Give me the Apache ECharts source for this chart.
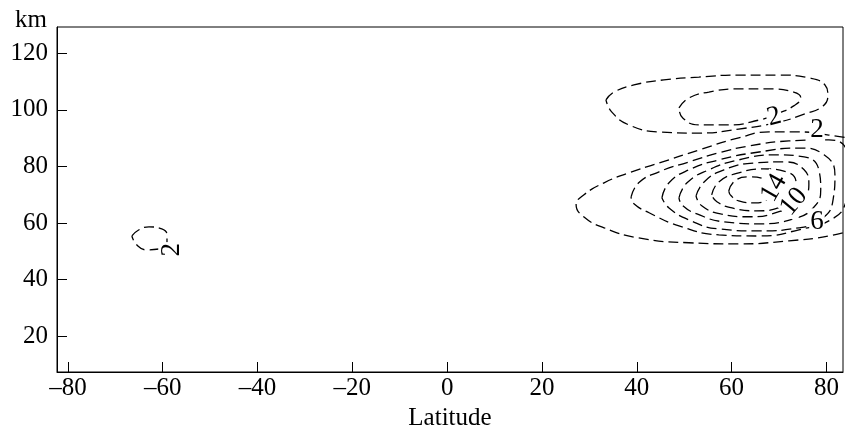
<!DOCTYPE html>
<html>
<head>
<meta charset="utf-8">
<script src="https://cdn.jsdelivr.net/npm/echarts@6/dist/echarts.min.js"></script>
<style>html,body{margin:0;padding:0;background:#fff}#c{width:846px;height:432px}</style>
</head>
<body>
<div id="c"></div>
<script>
// Axis ticks
const latTicks = [-80, -60, -40, -20, 0, 20, 40, 60, 80];
const kmTicks = [20, 40, 60, 80, 100, 120];

// Contours: [latitude, km]
const upperOuter = [[33.5,103.5],[35.2,106.3],[39.4,108.8],[45.7,110.6],[53.1,111.6],[61.5,112.3],[70.0,112.3],[76.3,111.3],[79.7,108.8],[80.3,105.3],[79.3,101.4],[75.3,98.5],[70.0,95.7],[61.5,93.2],[53.1,91.8],[44.7,92.2],[38.3,94.7],[34.7,99.3],[33.5,103.5]];
const upperInner = [[48.9,100.7],[51.0,104.2],[55.2,106.3],[61.5,107.4],[67.9,107.4],[73.1,106.3],[74.6,104.2],[73.1,101.4],[70.0,98.9],[65.8,96.4],[59.4,94.7],[53.1,94.7],[49.7,97.1],[48.9,100.7]];
const lower2 = [[86.9,89.4],[80.5,91.1],[74.2,92.2],[67.9,92.2],[61.5,90.1],[53.1,85.8],[44.7,81.2],[38.3,77.7],[33.1,74.2],[28.8,69.9],[27.2,66.4],[28.8,62.2],[33.1,58.3],[40.4,54.7],[51.0,53.0],[61.5,52.6],[72.1,53.7],[80.5,55.4],[86.9,58.3]];
const lower4 = [[38.8,69.2],[40.4,74.2],[44.7,78.1],[51.0,81.6],[57.3,84.8],[63.6,87.2],[72.1,89.0],[80.5,89.4],[84.3,85.8],[85.2,77.0],[84.3,68.2],[81.6,61.8],[74.2,57.6],[65.8,55.4],[57.3,55.8],[48.9,59.0],[42.6,63.6],[39.4,66.8],[38.8,69.2]];
const lower6 = [[45.3,68.9],[46.8,74.2],[51.0,78.8],[57.3,82.3],[65.8,85.1],[74.2,86.5],[79.5,84.1],[81.8,77.0],[81.4,68.2],[79.3,61.8],[74.2,58.3],[65.8,57.2],[57.3,57.9],[51.0,61.1],[46.8,65.3],[45.3,68.9]];
const lower8 = [[48.9,68.9],[50.6,74.2],[55.2,78.8],[61.5,82.3],[68.9,84.1],[75.3,83.4],[78.4,78.8],[78.8,71.7],[77.2,65.3],[73.1,61.5],[65.8,59.7],[58.4,60.4],[52.7,63.2],[49.7,66.1],[48.9,68.9]];
const lower10 = [[52.5,69.6],[54.2,74.5],[58.4,78.8],[64.7,81.2],[71.0,81.6],[75.3,78.8],[76.3,73.5],[74.8,68.2],[70.0,64.0],[63.6,62.2],[57.7,63.2],[53.7,66.1],[52.5,69.6]];
const lower12 = [[55.8,69.9],[57.3,74.5],[61.5,77.7],[66.8,79.1],[71.5,78.1],[73.6,74.2],[73.1,69.2],[70.4,65.7],[65.3,64.3],[60.1,65.3],[56.9,67.5],[55.8,69.9]];
const lower14 = [[59.4,71.3],[60.7,74.9],[63.6,76.3],[66.8,75.6],[68.5,72.4],[67.9,68.9],[64.7,67.1],[61.5,67.8],[59.9,69.6],[59.4,71.3]];
const smallLeft = [[-66.5,55.4],[-65.0,57.6],[-62.9,58.6],[-60.2,57.9],[-59.1,55.8],[-59.1,53.0],[-60.8,50.8],[-63.4,50.5],[-65.5,52.3],[-66.5,55.4]];

// Contour labels
const labelText = ['2', '2', '14', '10', '6', '2'];
const labelPos = [[69.0,97.5],[78.0,92.9],[68.9,72.4],[73.1,67.5],[78.0,60.4],[-58.1,50.5]];
const labelRot = [15, 0, 60, 50, 0, 90];

const contours = [upperOuter, upperInner, lower2, lower4, lower6, lower8, lower10, lower12, lower14, smallLeft];

const FONT = 'Liberation Serif';
const series = contours.map(c => ({
  type: 'line', data: c, smooth: 0.5, symbol: 'none', clip: true, silent: true,
  lineStyle: { color: '#000', width: 1.3, type: [10, 5] }, z: 2
}));
series.push({
  type: 'scatter', symbolSize: 0, itemStyle: { color: '#000', opacity: 1 }, z: 5, silent: true,
  data: labelPos.map((p, i) => ({
    value: p, name: labelText[i],
    label: { show: true, formatter: labelText[i], rotate: labelRot[i], position: 'inside', opacity: 1,
      fontFamily: FONT, fontSize: 27, color: '#000', textBorderWidth: 0,
      backgroundColor: '#fff', padding: [0, 1] }
  }))
});

const chart = echarts.init(document.getElementById('c'));
chart.setOption({
  animation: false,
  grid: { left: 57, right: 3, top: 27, bottom: 60, outerBoundsMode: 'none', containLabel: false, show: true, borderColor: '#000', borderWidth: 1, backgroundColor: 'transparent' },
  xAxis: {
    type: 'value', min: -82.3, max: 83.5,
    name: 'Latitude', nameLocation: 'middle', nameGap: 34,
    nameTextStyle: { fontFamily: FONT, fontSize: 25, color: '#000' },
    axisLine: { show: true, onZero: false, lineStyle: { color: '#000', width: 1 } },
    axisTick: { show: true, inside: true, length: 10, customValues: latTicks, lineStyle: { color: '#000' } },
    axisLabel: { customValues: latTicks, margin: 4, fontFamily: FONT, fontSize: 25, color: '#000',
      formatter: v => String(v).replace('-', '\u2013') },
    splitLine: { show: false }
  },
  yAxis: {
    type: 'value', min: 7.3, max: 129.3,
    name: 'km', nameLocation: 'end', nameGap: 0,
    nameTextStyle: { fontFamily: FONT, fontSize: 25, color: '#000', align: 'right', verticalAlign: 'bottom', padding: [0, 10, -6, 0] },
    axisLine: { show: true, onZero: false, lineStyle: { color: '#000', width: 1 } },
    axisTick: { show: true, inside: true, length: 10, customValues: kmTicks, lineStyle: { color: '#000' } },
    axisLabel: { customValues: kmTicks, margin: 9, fontFamily: FONT, fontSize: 25, color: '#000' },
    splitLine: { show: false }
  },
  series: series
});
</script>
</body>
</html>
